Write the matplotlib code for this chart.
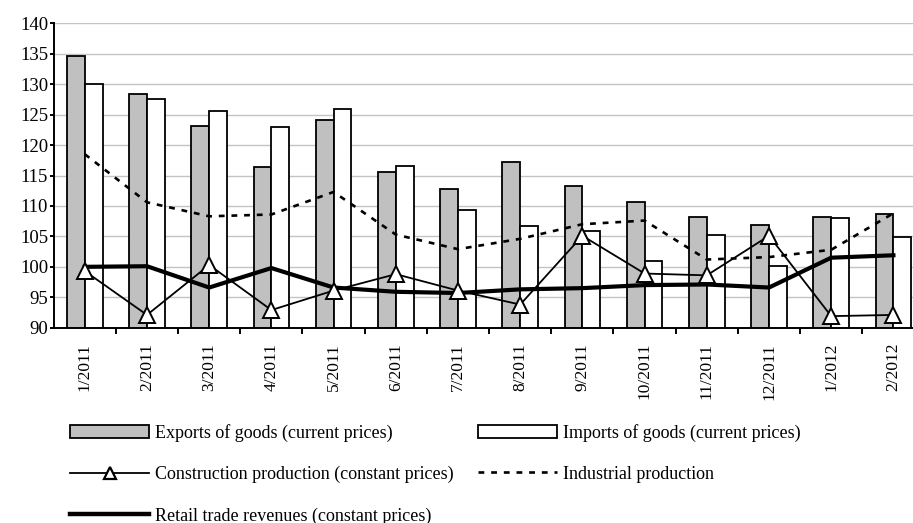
import numpy as np
import matplotlib
matplotlib.use("Agg")
import matplotlib.pyplot as plt
from matplotlib.lines import Line2D
from matplotlib.patches import Patch

# ---------------- DATA ----------------
months = ["1/2011", "2/2011", "3/2011", "4/2011", "5/2011", "6/2011", "7/2011",
          "8/2011", "9/2011", "10/2011", "11/2011", "12/2011", "1/2012", "2/2012"]

exports = [134.6, 128.4, 123.2, 116.4, 124.2, 115.5, 112.8,
           117.2, 113.3, 110.7, 108.2, 106.8, 108.2, 108.7]
imports = [130.1, 127.6, 125.6, 122.9, 125.9, 116.6, 109.4,
           106.7, 105.9, 101.0, 105.3, 100.2, 108.1, 104.9]
construction = [99.3, 92.1, 100.3, 92.9, 96.1, 98.8, 96.1,
                93.8, 105.1, 98.9, 98.6, 105.1, 91.9, 92.1]
industrial = [118.5, 110.6, 108.3, 108.6, 112.3, 105.3, 102.9,
              104.6, 107.0, 107.6, 101.2, 101.6, 102.8, 108.8]
retail = [100.0, 100.1, 96.6, 99.8, 96.6, 95.9, 95.7,
          96.3, 96.5, 97.0, 97.1, 96.6, 101.5, 101.9]

# ---------------- STYLE ----------------
plt.rcParams["font.family"] = ["Liberation Serif", "DejaVu Serif"]

fig = plt.figure(figsize=(9.13, 5.23), dpi=100)
ax = fig.add_axes([0.0588, 0.3734, 0.9538, 0.5820])

x = np.arange(len(months))
w = 0.286

ax.bar(x - w / 2, exports, w, bottom=0, color="#c0c0c0", edgecolor="black",
       linewidth=1.3, zorder=2)
ax.bar(x + w / 2, imports, w, bottom=0, color="white", edgecolor="black",
       linewidth=1.3, zorder=2)

ax.plot(x, industrial, color="black", linestyle=(0, (2.2, 2.6)), linewidth=1.9, zorder=3)
ax.plot(x, retail, color="black", linewidth=3.0, zorder=4)
ax.plot(x, construction, color="black", linewidth=1.3, marker="^", markersize=11,
        markerfacecolor="white", markeredgecolor="black", markeredgewidth=1.4, zorder=5)

# ---------------- AXES ----------------
ax.set_xlim(-0.5, len(months) - 0.5)
ax.set_ylim(90, 140)
ax.set_yticks(np.arange(90, 141, 5))
ax.yaxis.grid(True, color="#c4c4c4", linewidth=1.0, zorder=0)
ax.set_axisbelow(True)

ax.set_xticks(x)
ax.set_xticklabels(months, rotation=90, va="top", ha="center", fontsize=12.5)
ax.set_xticks(np.arange(0.5, len(months) - 0.5, 1), minor=True)
ax.tick_params(axis="x", which="major", length=0, pad=11)
ax.tick_params(axis="x", which="minor", length=4, width=1.4, direction="out")
ax.tick_params(axis="y", length=3, width=1.4, pad=1, labelsize=13.5)

for side in ["top", "right"]:
    ax.spines[side].set_visible(False)
ax.spines["left"].set_linewidth(1.4)
ax.spines["bottom"].set_linewidth(1.4)

# ---------------- LEGEND ----------------
h_exp = Patch(facecolor="#c0c0c0", edgecolor="black", linewidth=1.3)
h_imp = Patch(facecolor="white", edgecolor="black", linewidth=1.3)
h_con = Line2D([], [], color="black", linewidth=1.3, marker="^", markersize=8,
               markerfacecolor="white", markeredgecolor="black", markeredgewidth=1.6)
h_ind = Line2D([], [], color="black", linestyle=(0, (2.2, 2.6)), linewidth=1.9)
h_ret = Line2D([], [], color="black", linewidth=3.2)

leg_kw = dict(loc="upper left", frameon=False, fontsize=13, borderpad=0,
              borderaxespad=0, handlelength=4.4, handletextpad=0.3,
              labelspacing=1.33, handleheight=0.75)

fig.legend([h_exp, h_con, h_ret],
           ["Exports of goods (current prices)",
            "Construction production (constant prices)",
            "Retail trade revenues (constant prices)"],
           bbox_to_anchor=(70 / 913, 1 - 424 / 523), **leg_kw)
fig.legend([h_imp, h_ind],
           ["Imports of goods (current prices)", "Industrial production"],
           bbox_to_anchor=(478 / 913, 1 - 424 / 523), **leg_kw)

fig.savefig("out.png", dpi=100)
